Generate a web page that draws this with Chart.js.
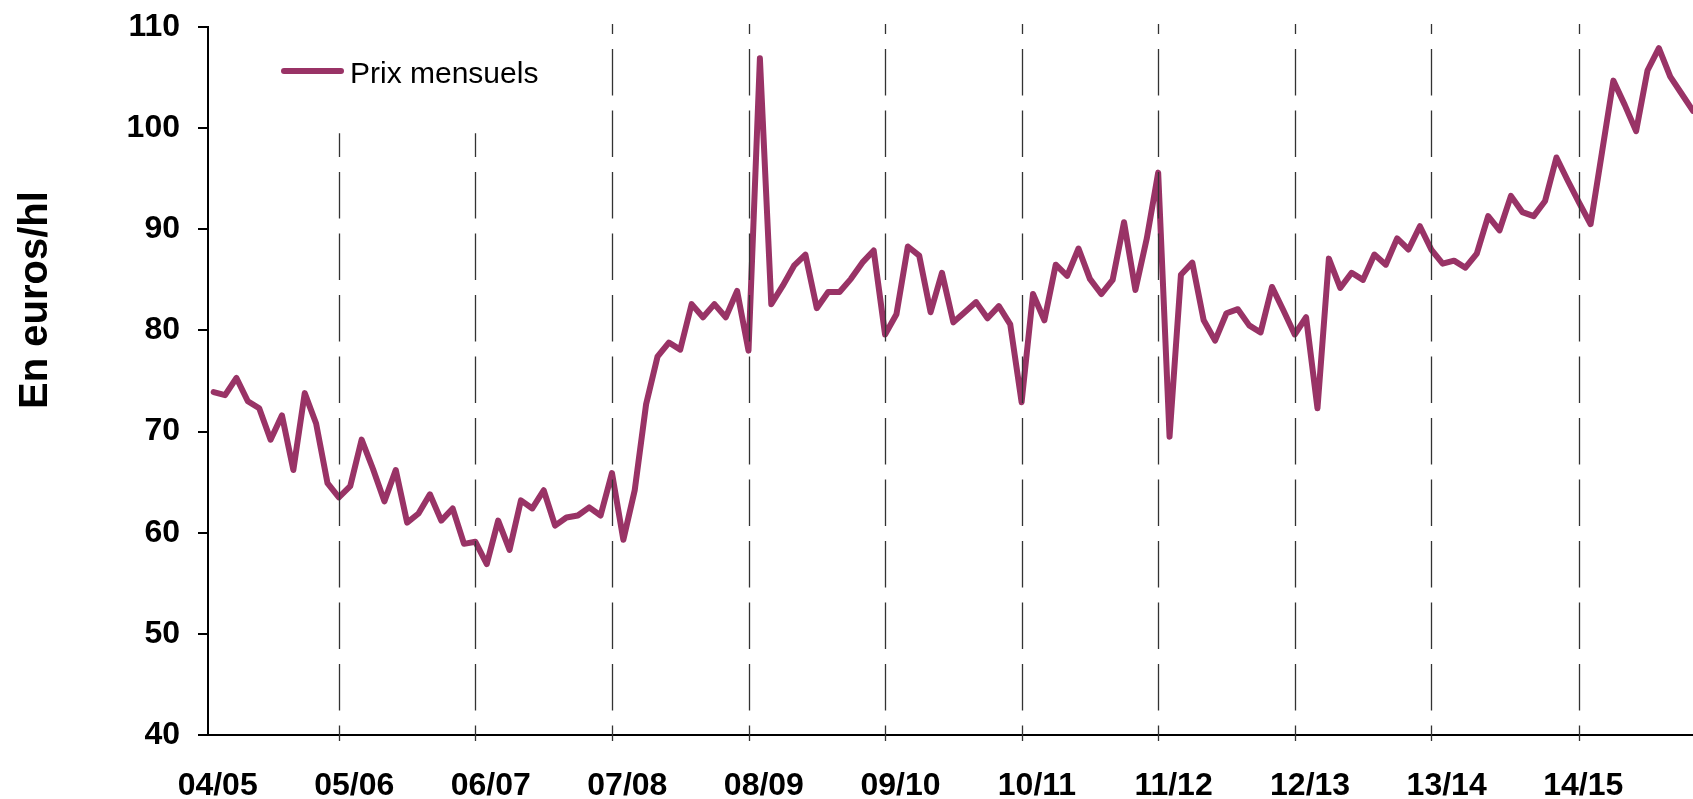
<!DOCTYPE html>
<html lang="fr">
<head>
<meta charset="utf-8">
<title>Prix mensuels</title>
<script src="https://cdn.jsdelivr.net/npm/chart.js@4.4.1/dist/chart.umd.min.js"></script>
<style>
  html, body { margin: 0; padding: 0; background: #fff; }
  #wrap { width: 1693px; height: 799px; }
</style>
</head>
<body>
<div id="wrap"><canvas id="prixChart" width="1693" height="799"></canvas></div>
<script>
// ─── Data ──────────────────────────────────────────────────────────────────────
const seasons = ['04/05', '05/06', '06/07', '07/08', '08/09', '09/10', '10/11', '11/12', '12/13', '13/14', '14/15'];
// month index where each season label sits
const seasonLabelAt = [0.35, 12.35, 24.35, 36.35, 48.35, 60.35, 72.35, 84.35, 96.35, 108.35, 120.35];
// month index of the dashed season separators
const seasonLines = [11, 23, 35, 47, 59, 71, 83, 95, 107, 120];
const yTicks = [40, 50, 60, 70, 80, 90, 100, 110];

const prixMensuels = [
  73.9, 73.6, 75.3, 73.0, 72.3, 69.2, 71.6, 66.2, 73.8, 70.8, 64.9,
  63.5, 64.6, 69.2, 66.3, 63.1, 66.2, 61.0, 61.9, 63.8, 61.2, 62.4, 58.9,
  59.1, 56.9, 61.2, 58.3, 63.2, 62.4, 64.2, 60.7, 61.5, 61.7, 62.5, 61.7,
  65.9, 59.3, 64.2, 72.7, 77.4, 78.8, 78.1, 82.6, 81.3, 82.6, 81.3, 83.9,
  78.0, 106.9, 82.6, 84.4, 86.4, 87.5, 82.2, 83.8, 83.8, 85.1, 86.7, 87.9,
  79.6, 81.6, 88.3, 87.4, 81.8, 85.7, 80.8, 81.8, 82.8, 81.2, 82.4, 80.6,
  72.9, 83.6, 81.0, 86.5, 85.4, 88.1, 85.1, 83.6, 85.0, 90.7, 84.0, 89.1,
  95.6, 69.5, 85.5, 86.7, 81.0, 79.0, 81.7, 82.1, 80.5, 79.8, 84.3, 82.0,
  79.6, 81.3, 72.3, 87.1, 84.2, 85.7, 85.0, 87.5, 86.5, 89.1, 88.0, 90.3,
  88.0, 86.6, 86.9, 86.2, 87.6, 91.3, 89.9, 93.3, 91.7, 91.3, 92.8, 97.1, 94.8,
  92.6, 90.5, 97.6, 104.7, 102.3, 99.7, 105.7, 107.9, 105.1, 103.4, 101.7
];

const FONT = "'Liberation Sans', Arial, sans-serif";
Chart.defaults.font.family = FONT;
Chart.defaults.color = '#000';

// ─── Dashed season separators (drawn over the line, like the original) ─────────
const seasonLinesPlugin = {
  id: 'seasonLines',
  afterDatasetsDraw(chart) {
    const { ctx, chartArea, scales: { x, y } } = chart;
    const period = 61.5;
    const origin = chartArea.bottom - 9.5;
    ctx.save();
    ctx.strokeStyle = '#333';
    ctx.lineWidth = 1.3;
    ctx.setLineDash([46.5, 15]);
    seasonLines.forEach((idx, i) => {
      const px = Math.round(x.getPixelForValue(idx)) + 0.5;
      // the first two stop short under the legend
      const top = i < 2 ? y.getPixelForValue(99.5) : chartArea.top - 3;
      ctx.lineDashOffset = (((top - origin) % period) + period) % period;
      ctx.beginPath();
      ctx.moveTo(px, top);
      ctx.lineTo(px, chartArea.bottom + 6);
      ctx.stroke();
    });
    ctx.restore();
  }
};

// ─── Legend + rotated axis title ───────────────────────────────────────────────
const decorPlugin = {
  id: 'decor',
  afterDraw(chart) {
    const { ctx, chartArea } = chart;
    const ds = chart.data.datasets[0];
    ctx.save();
    // legend
    const lx = chartArea.left + 76, ly = chartArea.top + 44;
    ctx.strokeStyle = ds.borderColor;
    ctx.lineWidth = 6;
    ctx.lineCap = 'round';
    ctx.beginPath();
    ctx.moveTo(lx, ly);
    ctx.lineTo(lx + 57, ly);
    ctx.stroke();
    ctx.fillStyle = '#000';
    ctx.font = `30px ${FONT}`;
    ctx.textBaseline = 'alphabetic';
    ctx.fillText(ds.label, lx + 66, ly + 12);
    // y title
    ctx.translate(47, 300);
    ctx.rotate(-Math.PI / 2);
    ctx.font = `bold 40px ${FONT}`;
    ctx.textAlign = 'center';
    ctx.fillText('En euros/hl', 0, 0);
    ctx.restore();
  }
};

// ─── Chart ─────────────────────────────────────────────────────────────────────
new Chart(document.getElementById('prixChart'), {
  type: 'line',
  data: {
    datasets: [{
      label: 'Prix mensuels',
      data: prixMensuels.map((v, i) => ({ x: i, y: v })),
      borderColor: '#993366',
      borderWidth: 6,
      borderJoinStyle: 'round',
      borderCapStyle: 'round',
      pointRadius: 0,
      tension: 0,
      fill: false
    }]
  },
  options: {
    responsive: false,
    animation: false,
    devicePixelRatio: 1,
    layout: { padding: { top: 27, right: 0, bottom: 0, left: 0 } },
    plugins: { legend: { display: false }, tooltip: { enabled: false } },
    scales: {
      x: {
        type: 'linear',
        min: -0.5,
        max: 130,
        afterBuildTicks: s => { s.ticks = seasonLabelAt.map(v => ({ value: v })); },
        afterFit: s => { s.height = 64; },
        grid: { display: false, drawTicks: false },
        border: { display: true, color: '#000', width: 2 },
        ticks: {
          autoSkip: false,
          maxRotation: 0,
          padding: 32,
          font: { size: 32, weight: 'bold' },
          callback: (v, i) => seasons[i]
        }
      },
      y: {
        min: 40,
        max: 110,
        afterBuildTicks: s => { s.ticks = yTicks.map(v => ({ value: v })); },
        afterFit: s => { s.width = 208; s.paddingTop = 0; s.paddingBottom = 0; },
        grid: { drawOnChartArea: false, drawTicks: true, tickLength: 10, color: '#000', lineWidth: 2 },
        border: { display: true, color: '#000', width: 2 },
        ticks: { padding: 18, font: { size: 32, weight: 'bold' } }
      }
    }
  },
  plugins: [seasonLinesPlugin, decorPlugin]
});
</script>
</body>
</html>
